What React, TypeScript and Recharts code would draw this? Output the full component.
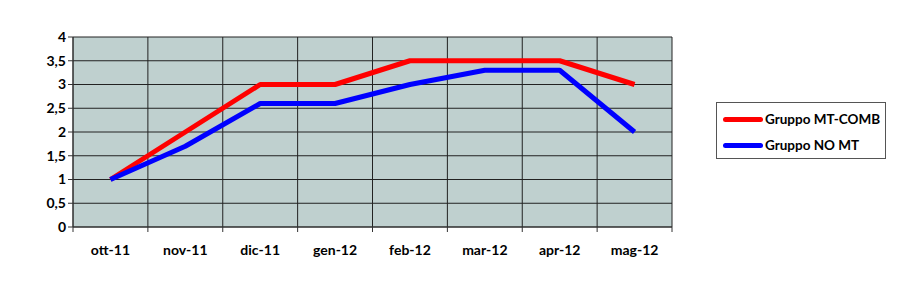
import { LineChart, Line, XAxis, YAxis, CartesianGrid } from 'recharts';

const months = ['ott-11', 'nov-11', 'dic-11', 'gen-12', 'feb-12', 'mar-12', 'apr-12', 'mag-12'];
const mtComb = [1, 2, 3, 3, 3.5, 3.5, 3.5, 3];
const noMt = [1, 1.7, 2.6, 2.6, 3.0, 3.3, 3.3, 2.0];
const yTicks = [0, 0.5, 1, 1.5, 2, 2.5, 3, 3.5, 4];
const boundaryTicks = [0, 1, 2, 3, 4, 5, 6, 7, 8];
const labelTicks = [0.5, 1.5, 2.5, 3.5, 4.5, 5.5, 6.5, 7.5];

const data = months.map((m, i) => ({ month: m, pos: i + 0.5, mt: mtComb[i], no: noMt[i] }));

const font = 'Lato, "Open Sans", sans-serif';

const legendItems = [
  { name: 'Gruppo MT-COMB', color: '#ff0000' },
  { name: 'Gruppo NO MT', color: '#0000ff' },
];

export default function App() {
  return (
    <div style={{ position: 'absolute', left: 0, top: 0, width: 924, height: 281, background: '#fff' }}>
      <LineChart width={924} height={281} data={data} margin={{ top: 37, right: 252, left: 0, bottom: 0 }}>
        <CartesianGrid xAxisId={0} stroke="#222" strokeWidth={1} fill="#bfd0cf" fillOpacity={1} />
        <XAxis
          xAxisId={0}
          type="number"
          dataKey="pos"
          domain={[0, 8]}
          ticks={boundaryTicks}
          tickFormatter={() => ''}
          tickLine={{ stroke: '#333' }}
          tickSize={5}
          axisLine={{ stroke: '#333' }}
          height={6}
          interval={0}
        />
        <XAxis
          xAxisId={1}
          type="number"
          dataKey="pos"
          domain={[0, 8]}
          ticks={labelTicks}
          tickFormatter={(v: number) => months[Math.floor(v)]}
          tick={{ fill: '#000', fontSize: 14, fontWeight: 700, fontFamily: font }}
          axisLine={false}
          tickLine={false}
          tickMargin={6}
          height={48}
          interval={0}
        />
        <YAxis
          domain={[0, 4]}
          ticks={yTicks}
          interval={0}
          width={73}
          tickFormatter={(v: number) => String(v).replace('.', ',')}
          tick={{ fill: '#000', fontSize: 14, fontWeight: 700, fontFamily: font }}
          tickLine={{ stroke: '#333' }}
          tickSize={5}
          axisLine={{ stroke: '#333' }}
        />
        <Line xAxisId={0} dataKey="mt" stroke="#ff0000" strokeWidth={5} dot={false} isAnimationActive={false} strokeLinejoin="round" />
        <Line xAxisId={0} dataKey="no" stroke="#0000ff" strokeWidth={5} dot={false} isAnimationActive={false} strokeLinejoin="round" />
      </LineChart>
      <div style={styles.legend}>
        {legendItems.map((it) => (
          <div key={it.name} style={styles.legendRow}>
            <span style={{ ...styles.swatch, background: it.color }} />
            <span>{it.name}</span>
          </div>
        ))}
      </div>
    </div>
  );
}

const styles: Record<string, React.CSSProperties> = {
  legend: {
    position: 'absolute', left: 716, top: 102, boxSizing: 'border-box', width: 170, height: 57,
    border: '1px solid #555', background: '#fff', padding: '3px 0 0 6px',
    fontFamily: font, fontWeight: 700, fontSize: 13.5, color: '#000',
  },
  legendRow: { display: 'flex', alignItems: 'center', height: 26 },
  swatch: { display: 'inline-block', width: 40, height: 5, borderRadius: 3, marginRight: 2 },
};
